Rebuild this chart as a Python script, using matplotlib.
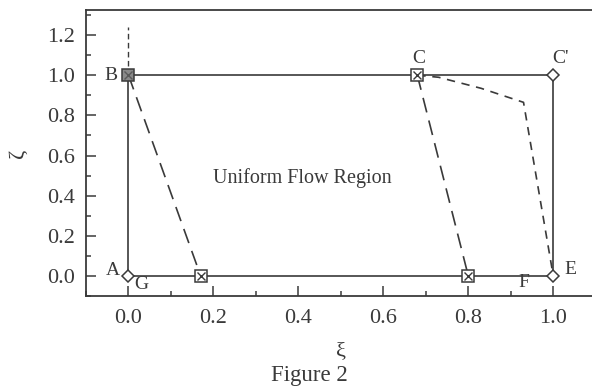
import matplotlib
matplotlib.use("Agg")
import matplotlib.pyplot as plt
from matplotlib.ticker import MultipleLocator

INK = "#3a3a3a"
plt.rcParams["font.family"] = ["Liberation Serif", "DejaVu Serif"]

# region boundary A -> B -> C' -> E -> A
frame_xi = [0.0, 0.0, 1.0, 1.0, 0.0]
frame_zeta = [0.0, 1.0, 1.0, 0.0, 0.0]

# boxed-x markers (C, G side, lower right)
boxed_xi = [0.68, 0.17, 0.80]
boxed_zeta = [1.0, 0.0, 0.0]
b_xi, b_zeta = [0.0], [1.0]

# diamond markers (A, C', E)
diamond_xi = [0.0, 1.0, 1.0]
diamond_zeta = [0.0, 1.0, 0.0]

# long-dashed characteristics
left_dash_xi = [0.0, 0.17]
left_dash_zeta = [1.0, 0.0]
right_dash_xi = [0.68, 0.80]
right_dash_zeta = [1.0, 0.0]

# short-dashed curve C -> E
curve_xi = [0.68, 0.73, 0.83, 0.93, 1.0]
curve_zeta = [1.0, 0.99, 0.935, 0.865, 0.0]

# dashed vertical above B
vert_xi = [0.0, 0.0]
vert_zeta = [1.0, 1.24]

point_labels = [
    ("B", 0.0, 1.0, (-8, 0), "right"),
    ("C", 0.68, 1.0, (1, 12), "center"),
    ("C'", 1.0, 1.0, (5, 12), "center"),
    ("A", 0.0, 0.0, (-11, 4), "center"),
    ("G", 0.0, 0.0, (9, -6.5), "center"),
    ("E", 1.0, 0.0, (12, 4.5), "center"),
    ("F", 0.93, -0.035, (0, 0), "center"),
]

fig = plt.figure(figsize=(5.92, 3.87), dpi=100)
ax = fig.add_axes([0.1453, 0.2351, 0.861, 0.739])

ax.plot(frame_xi, frame_zeta, color=INK, lw=1.2, zorder=2)
ax.plot(left_dash_xi, left_dash_zeta, color=INK, lw=1.2, dashes=(9, 5), zorder=2)
ax.plot(right_dash_xi, right_dash_zeta, color=INK, lw=1.2, dashes=(9, 5), zorder=2)
ax.plot(curve_xi, curve_zeta, color=INK, lw=1.2, dashes=(5, 4), zorder=2)
ax.plot(vert_xi, vert_zeta, color=INK, lw=1.0, dashes=(4, 2.5), zorder=2)

ax.plot(boxed_xi, boxed_zeta, ls="none", marker="s", ms=9, mfc="white",
        mec=INK, mew=1.1, zorder=3)
ax.plot(boxed_xi, boxed_zeta, ls="none", marker="x", ms=6, mec=INK, mew=1.0, zorder=4)
ax.plot(b_xi, b_zeta, ls="none", marker="s", ms=9, mfc="#8a8a8a",
        mec=INK, mew=1.1, zorder=3)
ax.plot(b_xi, b_zeta, ls="none", marker="x", ms=6, mec="#5a5a5a", mew=1.0, zorder=4)
ax.plot(diamond_xi, diamond_zeta, ls="none", marker="D", ms=6.5, mfc="white",
        mec=INK, mew=1.1, zorder=3)

for text, x, y, off, ha in point_labels:
    ax.annotate(text, (x, y), xytext=off, textcoords="offset points",
                ha=ha, va="center", fontsize=14, color=INK)

ax.text(0.41, 0.49, "Uniform Flow Region", ha="center", va="center",
        fontsize=14.5, color=INK)

ax.set_xlim(-0.1, 1.1)
ax.set_ylim(-0.1, 1.325)
ax.xaxis.set_minor_locator(MultipleLocator(0.1))
ax.yaxis.set_minor_locator(MultipleLocator(0.1))
ax.set_xticks([0.0, 0.2, 0.4, 0.6, 0.8, 1.0])
ax.set_yticks([0.0, 0.2, 0.4, 0.6, 0.8, 1.0, 1.2])
ax.xaxis.set_major_formatter(lambda v, p: f"{v:.1f}")
ax.yaxis.set_major_formatter(lambda v, p: f"{v:.1f}")
ax.tick_params(which="both", direction="in", top=False, right=False,
               colors=INK, labelsize=16, pad=8, width=1.1)
ax.tick_params(axis="x", pad=9.5)
ax.tick_params(which="major", length=7)
ax.tick_params(which="minor", length=3.5)
for s in ax.spines.values():
    s.set_color(INK)
    s.set_linewidth(1.3)

ax.set_xlabel("ξ", fontsize=16, color=INK, labelpad=10)
ax.set_ylabel("ζ", fontsize=16, color=INK, labelpad=14)
fig.text(0.522, 0.016, "Figure 2", ha="center", va="baseline", fontsize=16.5, color=INK)

fig.savefig("out.png", dpi=100, facecolor="white")
